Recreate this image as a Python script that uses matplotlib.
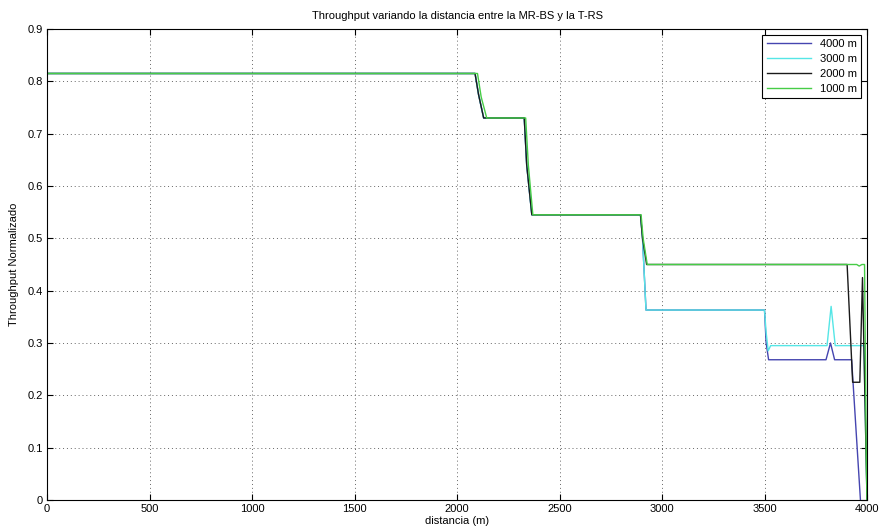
import matplotlib.pyplot as plt

# breakpoints (distance in m, normalised throughput)
x_4000 = [0, 2088, 2105, 2130, 2328, 2340, 2365, 2895, 2905, 2922, 3500, 3508, 3520,
          3800, 3822, 3842, 3925, 3968]
y_4000 = [0.815, 0.815, 0.775, 0.730, 0.730, 0.640, 0.545, 0.545, 0.500, 0.363, 0.363, 0.300, 0.268,
          0.268, 0.300, 0.268, 0.268, 0.0]

x_3000 = [0, 2088, 2105, 2130, 2328, 2340, 2365, 2895, 2905, 2922, 3500, 3508, 3518, 3530,
          3805, 3825, 3845, 3985, 4000]
y_3000 = [0.815, 0.815, 0.775, 0.730, 0.730, 0.640, 0.545, 0.545, 0.500, 0.363, 0.363, 0.320, 0.285, 0.295,
          0.295, 0.370, 0.295, 0.295, 0.0]

x_2000 = [0, 2088, 2105, 2130, 2328, 2340, 2365, 2895, 2905, 2925, 3903, 3930, 3965, 3978, 4000]
y_2000 = [0.815, 0.815, 0.775, 0.730, 0.730, 0.640, 0.545, 0.545, 0.500, 0.450, 0.450, 0.225, 0.225, 0.425, 0.0]

x_1000 = [0, 2100, 2118, 2145, 2335, 2348, 2370, 2898, 2908, 2928, 3950, 3962, 3975, 3988, 3996, 4000]
y_1000 = [0.815, 0.815, 0.770, 0.730, 0.730, 0.640, 0.545, 0.545, 0.500, 0.450, 0.450, 0.447, 0.450, 0.450, 0.10, 0.0]

series = [
    ("4000 m", x_4000, y_4000, "#4545b0"),
    ("3000 m", x_3000, y_3000, "#55e6e6"),
    ("2000 m", x_2000, y_2000, "#1a1a1a"),
    ("1000 m", x_1000, y_1000, "#46cc46"),
]

plt.rcParams['font.family'] = ['Liberation Sans', 'DejaVu Sans']

fig = plt.figure(figsize=(8.8, 5.31), dpi=100)
ax = fig.add_axes([47 / 880, 31 / 531, 820 / 880, 471 / 531])

for label, xs, ys, col in series:
    ax.plot(xs, ys, color=col, lw=1.0, label=label)

ax.set_xlim(0, 4000)
ax.set_ylim(0, 0.9)
ax.set_xticks(range(0, 4001, 500))
ax.set_yticks([i / 10 for i in range(10)])
ax.set_yticklabels(["0"] + ["%.1f" % (i / 10) for i in range(1, 10)])
ax.tick_params(direction="in", length=4, labelsize=8, top=True, right=True, pad=3)
ax.grid(True, linestyle=(0, (1, 3)), color="#666666", linewidth=0.7)

ax.set_title("Throughput variando la distancia entre la MR-BS y la T-RS", fontsize=8, pad=7)
ax.set_xlabel("distancia (m)", fontsize=8, labelpad=1)
ax.set_ylabel("Throughput Normalizado", fontsize=8, labelpad=6)

leg = ax.legend(loc="upper right", fontsize=8, fancybox=False, framealpha=1,
                edgecolor="black", handlelength=4.0, borderaxespad=0.5, labelspacing=0.45)
leg.get_frame().set_linewidth(0.8)

fig.savefig("out.png", dpi=100)
